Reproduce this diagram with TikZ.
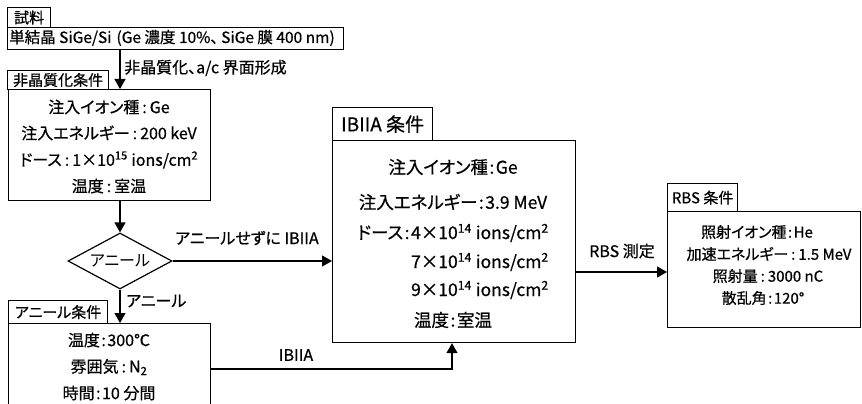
\documentclass[tikz,border=0pt]{standalone}
\usepackage{fontspec}
\setmainfont{Noto Sans CJK JP}[RawFeature=+palt, FakeBold=0.6]
\newfontfamily\plainfont{Noto Sans CJK JP}[RawFeature=+palt]
\usetikzlibrary{arrows.meta,shapes.geometric}
\newcommand\supx[1]{\textsuperscript{#1}}
\newcommand\subx[1]{\textsubscript{#1}}
\newcommand\cln{\hspace{3pt}:\hspace{3pt}}
\newcommand\clt{\hspace{1.5pt}:\hspace{1.5pt}}
\begin{document}
\begin{tikzpicture}[x=1pt,y=-1pt,
  box/.style={draw, line width=1.2pt, inner sep=0pt, anchor=north west},
  tab/.style={box, font=\fontsize{15}{15}\selectfont},
  txt/.style={inner sep=0pt, font=\fontsize{16}{16}\selectfont},
  itxt/.style={inner sep=0pt, font=\fontsize{17.5}{17.5}\selectfont},
  rtxt/.style={inner sep=0pt, font=\fontsize{15}{15}\selectfont},
  lab/.style={inner sep=0pt, font=\fontsize{16}{16}\selectfont},
  arr/.style={line width=1.2pt, -{Triangle[width=11pt,length=10pt]}},
  ]
\useasboundingbox (0,0) rectangle (862,404);
\clip (0,0) rectangle (862,404);
\fill[white] (0,0) rectangle (862,404);

% sample
\node[tab, minimum width=43, minimum height=20] (sampletab) at (7,7) {試料};
\node[box, minimum width=336, minimum height=22] (sample) at (7,27) {};
\node[inner sep=0pt, font=\fontsize{15.5}{15.5}\selectfont, anchor=west] (sampletext) at (9,38) {単結晶 SiGe/Si\hspace{5pt}(Ge 濃度 10\%、\hspace{3pt}SiGe 膜 400 nm)};

% amorphization
\node[tab, minimum width=101, minimum height=19] (amortab) at (7,70) {非晶質化条件};
\node[box, minimum width=202, minimum height=111] (amorph) at (8,89) {};
\node[txt] (a1) at (109,107) {注入イオン種\cln Ge};
\node[txt] (a2) at (109,133) {注入エネルギー\cln 200 keV};
\node[txt] (a3) at (109,160) {ドース\cln 1×10\supx{15} ions/cm\supx{2}};
\node[txt] (a4) at (109,186) {温度\cln 室温};

% decision
\node[draw, diamond, line width=1.2pt, inner sep=0pt, aspect=1.85,
      minimum width=104, minimum height=56, font=\plainfont\fontsize{16}{16}\selectfont] (dia) at (120,261) {アニール};

% anneal
\node[tab, minimum width=99, minimum height=23] (anntab) at (8,300) {アニール条件};
\node[box, minimum width=202, minimum height=110] (anneal) at (8,323) {};
\node[txt] (n1) at (109,340) {温度\clt 300℃};
\node[txt] (n2) at (109,367) {雰囲気\cln N\subx{2}};
\node[txt] (n3) at (109,393) {時間\clt 10 分間};

% IBIIA
\node[box, minimum width=100, minimum height=33, font=\fontsize{19}{19}\selectfont] (ibtab) at (332,107) {IBIIA 条件};
\node[box, minimum width=243, minimum height=202] (ibiia) at (332,140) {};
\node[itxt] (i1) at (453,167) {注入イオン種\clt Ge};
\node[itxt] (i2) at (453,202) {注入エネルギー\clt 3.9 MeV};
\node[itxt] (i3) at (453,233) {ドース\clt 4×10\supx{14} ions/cm\supx{2}};
\node[itxt, anchor=east] (i4) at (i3.east |- 0,262) {7×10\supx{14} ions/cm\supx{2}};
\node[itxt, anchor=east] (i5) at (i3.east |- 0,290) {9×10\supx{14} ions/cm\supx{2}};
\node[itxt] (i6) at (453,320) {温度\clt 室温};

% RBS
\node[tab, minimum width=70, minimum height=28] (rbstab) at (667,183) {RBS 条件};
\node[box, minimum width=193, minimum height=116] (rbs) at (667,211) {};
\node[rtxt] (r1) at (757,232) {照射イオン種\clt He};
\node[rtxt] (r2) at (769,254) {加速エネルギー\cln 1.5 MeV};
\node[rtxt] (r3) at (768,276) {照射量\cln 3000 nC};
\node[rtxt] (r4) at (763,298) {散乱角\clt 120°};

% connectors
\coordinate (bend) at (452,369);
\coordinate (rbsy) at (620,272);
\draw[arr] (sample.south -| dia.north) -- (amorph.north -| dia.north);
\node[lab, anchor=west] (l1) at (124,68) {非晶質化、a/c 界面形成};
\draw[arr] (amorph.south -| dia.north) -- (dia.north);
\draw[arr] (dia.east) -- (ibiia.west |- dia.east);
\node[lab, anchor=west] (l2) at (175,238) {アニールせずに IBIIA};
\draw[arr] (dia.south) -- (anneal.north -| dia.south);
\node[lab, anchor=west] (l3) at (126,301) {アニール};
\draw[arr] (anneal.east |- bend) -- (bend) -- (ibiia.south -| bend);
\node[lab] (l4) at (296,355) {IBIIA};
\draw[arr] (ibiia.east |- rbsy) -- (rbs.west |- rbsy);
\node[lab] (l5) at (622,251) {RBS 測定};
\end{tikzpicture}
\end{document}
